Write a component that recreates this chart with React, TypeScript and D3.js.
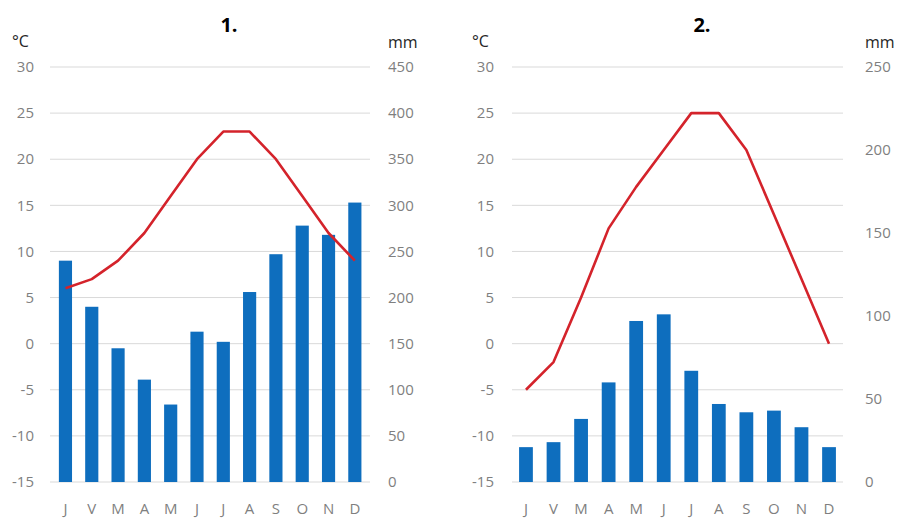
import React, { useRef, useEffect } from 'react';
import * as d3 from 'd3';

const months = ['J', 'V', 'M', 'A', 'M', 'J', 'J', 'A', 'S', 'O', 'N', 'D'];
const tempTicks = [-15, -10, -5, 0, 5, 10, 15, 20, 25, 30];

// chart 1
const temp1 = [6, 7, 9, 12, 16, 20, 23, 23, 20, 16, 12, 9];
const precip1 = [240, 190, 145, 111, 84, 163, 152, 206, 247, 278, 268, 303];
const precipTicks1 = [0, 50, 100, 150, 200, 250, 300, 350, 400, 450];

// chart 2
const temp2 = [-5, -2, 5, 12.5, 17, 21, 25, 25, 21, 14, 7, 0];
const precip2 = [21, 24, 38, 60, 97, 101, 67, 47, 42, 43, 33, 21];
const precipTicks2 = [0, 50, 100, 150, 200, 250];

const panels = [
  { title: '1.', temp: temp1, precip: precip1, pTicks: precipTicks1, pMax: 450, x0: 50, x1: 370, b0: 52.3, b1: 368, leftLab: 34, rightLab: 388, unitC: 12, titleX: 229 },
  { title: '2.', temp: temp2, precip: precip2, pTicks: precipTicks2, pMax: 250, x0: 512, x1: 843, b0: 512.2, b1: 842.8, leftLab: 494, rightLab: 865, unitC: 472, titleX: 702 },
];

const App = () => {
  const ref = useRef(null);
  useEffect(() => {
    const svg = d3.select(ref.current);
    svg.selectAll('*').remove();
    const top = 67;
    const bottom = 482;
    const font = '"Open Sans", "Liberation Sans", sans-serif';

    panels.forEach((p) => {
      const g = svg.append('g');
      const x = d3.scaleBand().domain(d3.range(12).map(String)).range([p.b0, p.b1]).paddingInner(0.5).paddingOuter(0.25);
      const yT = d3.scaleLinear().domain([-15, 30]).range([bottom, top]);
      const yP = d3.scaleLinear().domain([0, p.pMax]).range([bottom, top]);

      // gridlines
      g.selectAll('line.grid').data(tempTicks).join('line')
        .attr('x1', p.x0).attr('x2', p.x1)
        .attr('y1', d => yT(d)).attr('y2', d => yT(d))
        .attr('stroke', '#d9d9d9').attr('stroke-width', 1);

      // left ticks
      g.selectAll('text.lt').data(tempTicks).join('text')
        .attr('x', p.leftLab).attr('y', d => yT(d)).attr('dy', '0.35em')
        .attr('text-anchor', 'end').style('font-family', font).style('font-size', '15px').style('fill', '#7f7f7f')
        .text(d => d);

      // right ticks
      g.selectAll('text.rt').data(p.pTicks).join('text')
        .attr('x', p.rightLab).attr('y', d => yP(d)).attr('dy', '0.35em')
        .attr('text-anchor', 'start').style('font-family', font).style('font-size', '15px').style('fill', '#7f7f7f')
        .text(d => d);

      // bars
      g.selectAll('rect').data(p.precip).join('rect')
        .attr('x', (d, i) => x(String(i)))
        .attr('width', x.bandwidth())
        .attr('y', d => yP(d))
        .attr('height', d => bottom - yP(d))
        .attr('fill', '#0e6ebe');

      // temperature line
      const line = d3.line().x((d, i) => x(String(i)) + x.bandwidth() / 2).y(d => yT(d));
      g.append('path').datum(p.temp).attr('d', line)
        .attr('fill', 'none').attr('stroke', '#d4232b').attr('stroke-width', 2.6).attr('stroke-linejoin', 'round');

      // month labels
      g.selectAll('text.m').data(months).join('text')
        .attr('x', (d, i) => x(String(i)) + x.bandwidth() / 2).attr('y', 514)
        .attr('text-anchor', 'middle').style('font-family', font).style('font-size', '15px').style('fill', '#7f7f7f')
        .text(d => d);

      // units and title
      g.append('text').attr('x', p.unitC).attr('y', 47).style('font-family', font).style('font-size', '16px').style('fill', '#262626').text('°C');
      g.append('text').attr('x', p.rightLab).attr('y', 48).style('font-family', font).style('font-size', '16px').style('fill', '#262626').text('mm');
      g.append('text').attr('x', p.titleX).attr('y', 32).attr('text-anchor', 'middle')
        .style('font-family', font).style('font-size', '20px').style('font-weight', 'bold').style('fill', '#000').text(p.title);
    });
  }, []);

  return <svg ref={ref} width={905} height={519} style={{ position: 'absolute', left: 0, top: 0, background: '#fff' }} />;
};

export default App;
